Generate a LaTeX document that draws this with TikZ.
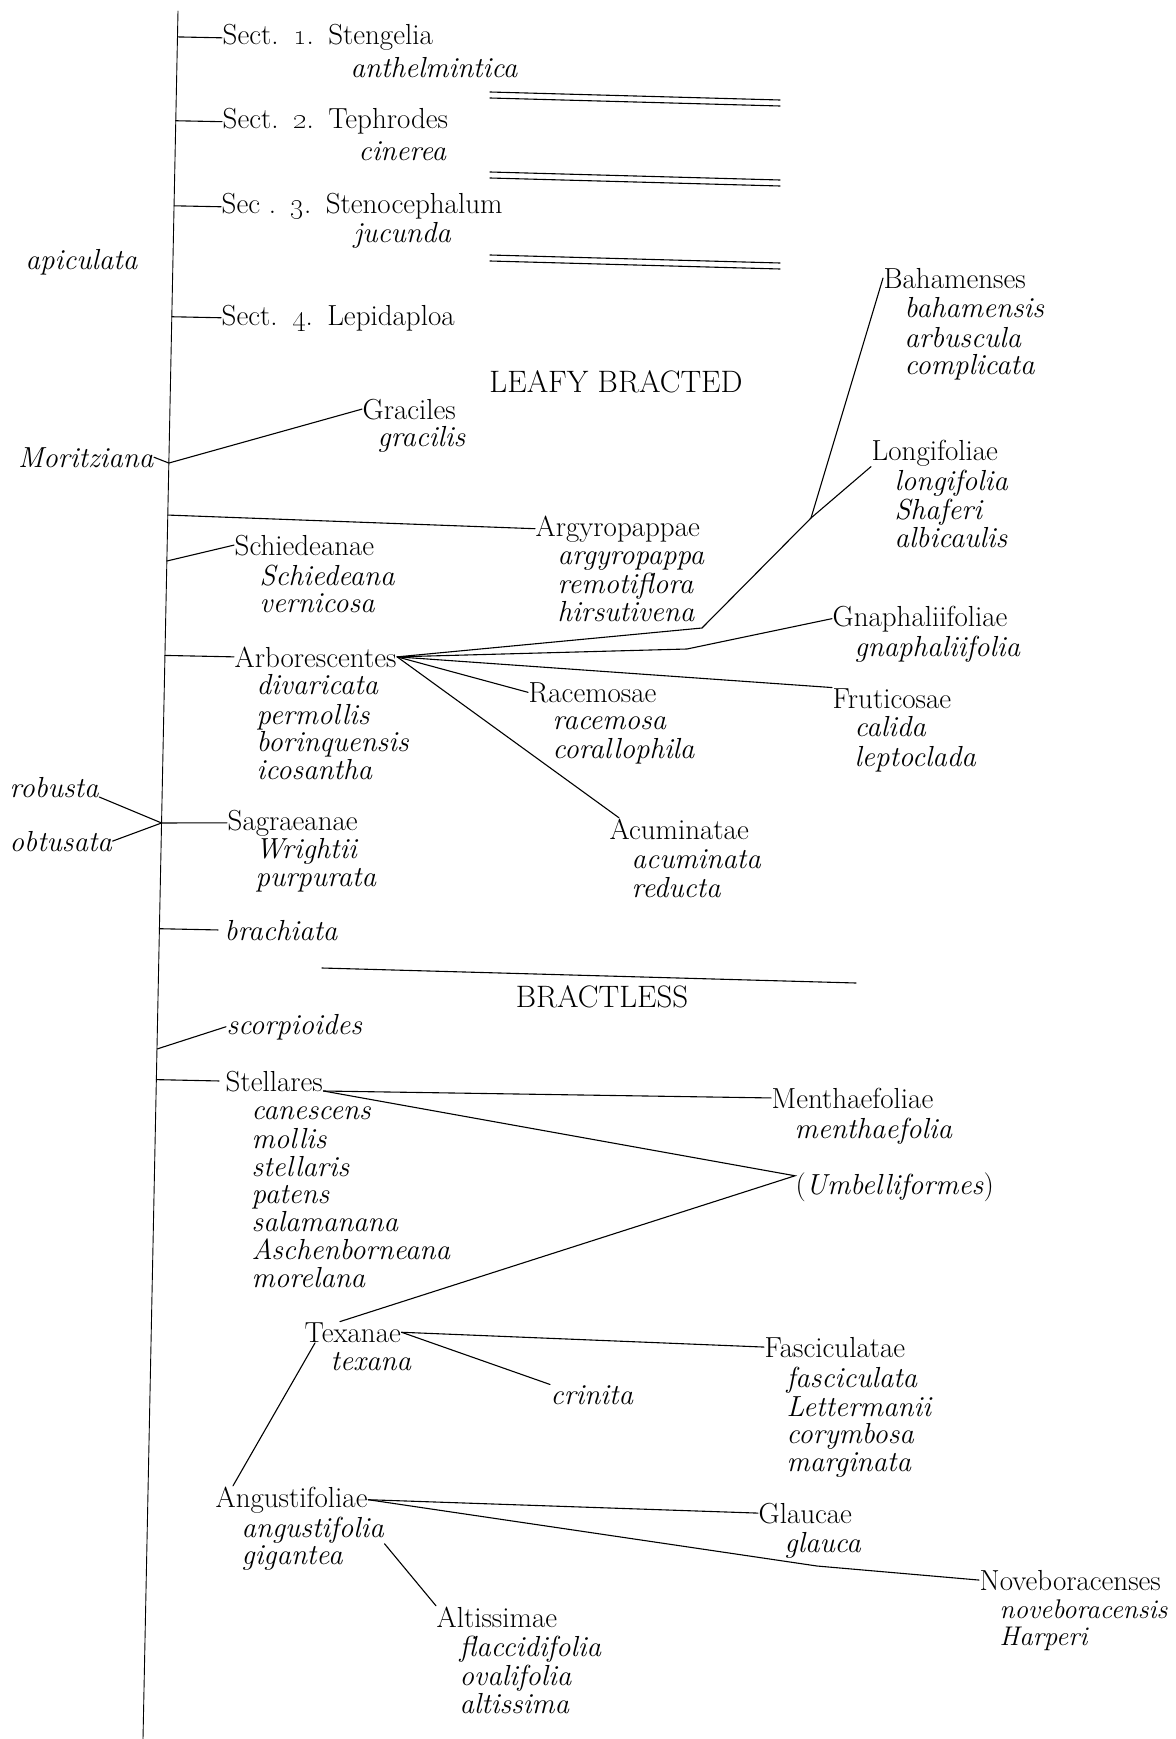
\documentclass[tikz,border=0pt]{standalone}
\usepackage{tikz}
\usetikzlibrary{positioning,calc}
\newcommand{\diagsize}{\fontsize{29}{27.7}\selectfont}
\newcommand{\capsize}{\fontsize{31}{32}\selectfont}

\begin{document}
\begin{tikzpicture}[
  x=1pt, y=-1pt,
  font=\diagsize,
  hdr/.style={inner sep=0.5pt, anchor=base west},
  sp/.style={hdr, font=\diagsize\itshape},
  spp/.style={inner sep=0.5pt, align=left, font=\diagsize\itshape},
  ttl/.style={inner sep=0pt, font=\capsize},
  ln/.style={line width=1.1pt},
  line cap=round,
]
\useasboundingbox (0,0) rectangle (1175,1739);
\coordinate (top) at (178,11);
\coordinate (bot) at (143,1739);
\draw[line width=0.9pt] (top) -- (bot);

% sections
\node[hdr] (sect1) at (222,45) {Sect.\enspace\oldstylenums{1}.\enspace Stengelia};
\node[spp, below right=12pt and 128pt of sect1.base west] (sect1-s) {\strut anthelmintica};
\node[hdr] (sect2) at (222,129) {Sect.\enspace\oldstylenums{2}.\enspace Tephrodes};
\node[spp, below right=11pt and 136pt of sect2.base west] (sect2-s) {\strut cinerea};
\node[hdr] (sect3) at (221,214) {Sec .\enspace\oldstylenums{3}.\enspace Stenocephalum};
\node[spp, below right=8pt and 132pt of sect3.base west] (sect3-s) {\strut jucunda};
\node[hdr] (sect4) at (221,325) {Sect.\enspace\oldstylenums{4}.\enspace Lepidaploa};
\node[sp] (apic) at (25,269) {apiculata};
\foreach \y in {92,98,172,178,255,261}
  \draw[ln] (490,\y) -- (780,\y+8);

\node[ttl] (leafy) at (616,382) {LEAFY BRACTED};

% leafy bracted
\node[hdr] (graci) at (362,419) {Graciles};
\node[spp, below right=7pt and 15pt of graci.base west] (graci-s) {\strut gracilis};
\node[sp, anchor=base east] (moritz) at (154,467) {Moritziana};
\node[hdr] (argyro) at (535,536) {Argyropappae};
\node[spp, below right=8pt and 22pt of argyro.base west] (argyro-s) {\strut argyropappa\\remotiflora\\hirsutivena};
\node[hdr] (schied) at (234,555) {Schiedeanae};
\node[spp, below right=9pt and 25pt of schied.base west] (schied-s) {\strut Schiedeana\\vernicosa};
\node[hdr] (arbor) at (234,667) {Arborescentes};
\node[spp, below right=7pt and 22pt of arbor.base west] (arbor-s) {\strut divaricata\\permollis\\borinquensis\\icosantha};
\node[hdr] (racem) at (528,702) {Racemosae};
\node[spp, below right=7pt and 24pt of racem.base west] (racem-s) {\strut racemosa\\corallophila};
\node[hdr] (acum) at (609,839) {Acuminatae};
\node[spp, below right=9pt and 22pt of acum.base west] (acum-s) {\strut acuminata\\reducta};
\node[hdr] (baham) at (883,288) {Bahamenses};
\node[spp, below right=9pt and 21pt of baham.base west] (baham-s) {\strut bahamensis\\arbuscula\\complicata};
\node[hdr] (longi) at (871,460) {Longifoliae};
\node[spp, below right=9pt and 23pt of longi.base west] (longi-s) {\strut longifolia\\Shaferi\\albicaulis};
\node[hdr] (gnaph) at (832,626) {Gnaphaliifoliae};
\node[spp, below right=9pt and 22pt of gnaph.base west] (gnaph-s) {\strut gnaphaliifolia};
\node[hdr] (frutic) at (832,708) {Fruticosae};
\node[spp, below right=8pt and 22pt of frutic.base west] (frutic-s) {\strut calida\\leptoclada};
\node[sp] (robusta) at (9,797) {robusta};
\node[sp] (obtus) at (9,851) {obtusata};
\node[hdr] (sagra) at (227,830) {Sagraeanae};
\node[spp, below right=8pt and 28pt of sagra.base west] (sagra-s) {\strut Wrightii\\purpurata};
\node[sp] (brach) at (224,940) {brachiata};

\coordinate (j-mor) at ($(top)!0.2616!(bot)$);
\coordinate (j-arg) at ($(top)!0.2917!(bot)$);
\coordinate (j-sch) at ($(top)!0.3183!(bot)$);
\coordinate (j-sag) at ($(top)!0.4699!(bot)$);
\coordinate (j-sco) at ($(top)!0.6007!(bot)$);
\coordinate (k-bah) at (702,628);
\coordinate (k-fork) at (811,518);
\coordinate (k-gna) at (687,649);

\foreach \n in {sect1,sect2,sect3,sect4,arbor}
  \draw[ln] (\n.west) -- ($(top)!(\n.west)!(bot)$);
\draw[ln] (moritz.east) -- (j-mor) -- (graci.west);
\draw[ln] (j-arg) -- (argyro.west);
\draw[ln] (j-sch) -- (schied.west);
\draw[ln] (arbor.east) -- (k-bah) -- (k-fork) -- (baham.west);
\draw[ln] (k-fork) -- (longi.south west);
\draw[ln] (arbor.east) -- (k-gna) -- (gnaph.west);
\draw[ln] (arbor.east) -- (frutic.north west);
\draw[ln] (arbor.east) -- (racem.west);
\draw[ln] (arbor.east) -- ([xshift=10pt]acum.north west);
\draw[ln] (robusta.base east) -- (j-sag) -- (sagra.west);
\draw[ln] (obtus.east) -- (j-sag);
\draw[ln, shorten <=6pt] (brach.west) -- ($(top)!(brach.west)!(bot)$);

% bractless
\draw[ln] (322,968) -- (856,983);
\node[ttl] (bractl) at (602,997) {BRACTLESS};

\node[sp] (scorp) at (226,1034) {scorpioides};
\node[hdr] (stell) at (225,1091) {Stellares};
\node[spp, below right=8pt and 26pt of stell.base west] (stell-s) {\strut canescens\\mollis\\stellaris\\patens\\salamanana\\Aschenborneana\\morelana};
\node[hdr] (menth) at (771,1108) {Menthaefoliae};
\node[spp, below right=9pt and 23pt of menth.base west] (menth-s) {\strut menthaefolia};
\node[hdr] (umbel) at (795,1194) {(\textit{Umbelliformes})};
\node[hdr] (texan) at (304,1342) {Texanae};
\node[spp, below right=8pt and 26pt of texan.base west] (texan-s) {\strut texana};
\node[sp] (crin) at (550,1404) {crinita};
\node[hdr] (fasc) at (764,1357) {Fasciculatae};
\node[spp, below right=9pt and 22pt of fasc.base west] (fasc-s) {\strut fasciculata\\Lettermanii\\corymbosa\\marginata};
\node[hdr] (angus) at (215,1507) {Angustifoliae};
\node[spp, below right=9pt and 26pt of angus.base west] (angus-s) {\strut angustifolia\\gigantea};
\node[hdr] (glauc) at (758,1523) {Glaucae};
\node[spp, below right=9pt and 26pt of glauc.base west] (glauc-s) {\strut glauca};
\node[hdr] (novebo) at (979,1590) {Noveboracenses};
\node[spp, font=\fontsize{27}{27.7}\selectfont\itshape, below right=8pt and 20pt of novebo.base west] (novebo-s) {\strut noveboracensis\\Harperi};
\node[hdr] (altis) at (436,1627) {Altissimae};
\node[spp, below right=8pt and 23pt of altis.base west] (altis-s) {\strut flaccidifolia\\ovalifolia\\altissima};

\coordinate (k-nov) at (817,1566);
\draw[ln] (j-sco) -- (scorp.west);
\draw[ln, shorten <=6pt] (stell.west) -- ($(top)!(stell.west)!(bot)$);
\draw[ln] (stell.base east) -- (menth.west);
\draw[ln] (stell.base east) -- ([yshift=11pt]umbel.west) -- ([xshift=36pt]texan.north west);
\draw[ln] (texan.east) -- (fasc.west);
\draw[ln] (texan.east) -- (crin.north west);
\draw[ln] ([xshift=11pt]texan.south west) -- ([xshift=18pt]angus.north west);
\draw[ln] (angus.east) -- (glauc.west);
\draw[ln] (angus.east) -- (k-nov) -- (novebo.west);
\draw[ln] (angus-s.east) -- (altis.north west);
\end{tikzpicture}
\end{document}
